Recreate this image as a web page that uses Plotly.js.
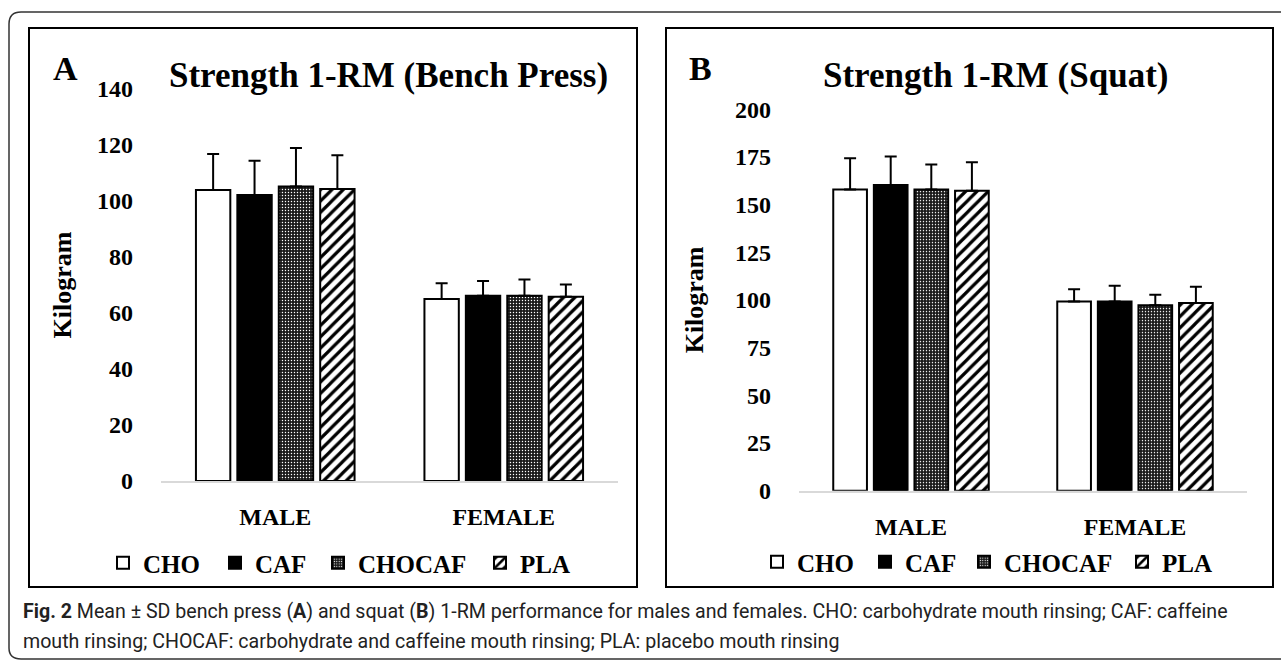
<!DOCTYPE html>
<html><head><meta charset="utf-8">
<script src="https://cdn.plot.ly/plotly-3.0.1.min.js"></script>
<style>html,body{margin:0;padding:0;background:#fff}#chart{width:1281px;height:660px}</style>
</head><body><div id="chart"></div>
<script>
// ---- data ----
const groups = ['MALE', 'FEMALE'];
const conditions = ['CHO', 'CAF', 'CHOCAF', 'PLA'];

// Bench press 1-RM (kg): mean and SD for [MALE, FEMALE]
const benchCHO = [103.9, 65.0];
const benchCAF = [102.1, 66.2];
const benchCHOCAF = [105.2, 66.2];
const benchPLA = [104.3, 65.8];
const benchCHO_SD = [12.9, 5.6];
const benchCAF_SD = [12.3, 5.2];
const benchCHOCAF_SD = [13.7, 5.8];
const benchPLA_SD = [12.0, 4.4];

// Squat 1-RM (kg): mean and SD for [MALE, FEMALE]
const squatCHO = [157.8, 99.1];
const squatCAF = [160.2, 99.1];
const squatCHOCAF = [157.8, 97.2];
const squatPLA = [157.2, 98.4];
const squatCHO_SD = [16.4, 6.5];
const squatCAF_SD = [15.0, 8.3];
const squatCHOCAF_SD = [13.2, 5.5];
const squatPLA_SD = [15.0, 8.5];

// ---- styling ----
const W = 1281, H = 660;
const px = x => x / W;
const py = y => 1 - y / H;
const SERIF = 'Liberation Serif, Times New Roman, serif';
const CAPTION_FONT = 'Roboto, Liberation Sans, sans-serif';

const fills = {
  CHO: {color: '#ffffff'},
  CAF: {color: '#000000'},
  CHOCAF: {color: '#1a1a1a', pattern: {shape: '.', fgcolor: '#ffffff', bgcolor: '#1a1a1a', size: 3, solidity: 0.18}},
  PLA: {color: '#ffffff', pattern: {shape: '/', fgcolor: '#000000', bgcolor: '#ffffff', size: 8, solidity: 0.4}}
};

function bar(name, y, sd, xa, ya, leg) {
  const m = Object.assign({line: {color: '#000', width: 2}}, fills[name]);
  return {
    type: 'bar', name: name, x: groups, y: y, xaxis: xa, yaxis: ya, legend: leg,
    marker: m,
    error_y: {type: 'data', array: sd, arrayminus: sd.map(() => 0), symmetric: false,
              color: '#000', thickness: 2, width: 6},
    hoverinfo: 'y+name'
  };
}

const data = [
  bar('CHO', benchCHO, benchCHO_SD, 'x', 'y', 'legend'),
  bar('CAF', benchCAF, benchCAF_SD, 'x', 'y', 'legend2'),
  bar('CHOCAF', benchCHOCAF, benchCHOCAF_SD, 'x', 'y', 'legend3'),
  bar('PLA', benchPLA, benchPLA_SD, 'x', 'y', 'legend4'),
  bar('CHO', squatCHO, squatCHO_SD, 'x2', 'y2', 'legend5'),
  bar('CAF', squatCAF, squatCAF_SD, 'x2', 'y2', 'legend6'),
  bar('CHOCAF', squatCHOCAF, squatCHOCAF_SD, 'x2', 'y2', 'legend7'),
  bar('PLA', squatPLA, squatPLA_SD, 'x2', 'y2', 'legend8')
];

const tickFont = {family: SERIF, size: 24, color: '#000', weight: 'bold'};
const xAxisBase = {
  showline: true, linecolor: '#d9d9d9', linewidth: 2, ticks: '', showgrid: false,
  zeroline: false, tickfont: tickFont, ticklabelstandoff: 13, fixedrange: true
};
const yTitleFont = {family: SERIF, size: 26, color: '#000', weight: 'bold'};
const yAxisBase = {
  showline: false, showgrid: false, zeroline: false, ticks: '',
  tickfont: tickFont, ticklabelstandoff: 27, fixedrange: true
};
const legendBase = {
  orientation: 'h', xanchor: 'left', yanchor: 'middle', bgcolor: 'rgba(0,0,0,0)',
  font: {family: SERIF, size: 25, color: '#000', weight: 'bold'}, itemclick: false, itemdoubleclick: false
};
// legend text starting points (px) in the picture
const legA = [143, 255, 358, 520], legB = [797, 905, 1004, 1162];
const legendLayouts = {};
legA.concat(legB).forEach((t, i) => {
  const key = i === 0 ? 'legend' : 'legend' + (i + 1);
  legendLayouts[key] = Object.assign({}, legendBase, {x: px(t - 40), y: py(i < 4 ? 563 : 562)});
});

const layout = Object.assign({
  width: W, height: H,
  margin: {l: 0, r: 0, t: 0, b: 0},
  paper_bgcolor: '#fff', plot_bgcolor: '#fff',
  barmode: 'group', bargap: 0.275, bargroupgap: 0.17,
  showlegend: true,
  xaxis: Object.assign({}, xAxisBase, {domain: [px(161), px(618)], anchor: 'y'}),
  yaxis: Object.assign({}, yAxisBase, {domain: [py(481), py(89)], range: [0, 140], dtick: 20, anchor: 'x',
    title: {text: 'Kilogram', font: yTitleFont, standoff: 17}}),
  xaxis2: Object.assign({}, xAxisBase, {domain: [px(799), px(1247)], anchor: 'y2'}),
  yaxis2: Object.assign({}, yAxisBase, {domain: [py(490.7), py(109.1)], range: [0, 200], dtick: 25, anchor: 'x2',
    title: {text: 'Kilogram', font: yTitleFont, standoff: 23}}),
  shapes: [
    {type: 'path', xref: 'paper', yref: 'paper',
     path: `M ${px(1281)},${py(12)} H ${px(21)} Q ${px(9)},${py(12)} ${px(9)},${py(24)} V ${py(648)} Q ${px(9)},${py(659)} ${px(21)},${py(659)} H ${px(1281)}`,
     line: {color: '#333', width: 1.5}},
    {type: 'rect', xref: 'paper', yref: 'paper', x0: px(29), x1: px(637), y0: py(587), y1: py(28),
     line: {color: '#000', width: 2}},
    {type: 'rect', xref: 'paper', yref: 'paper', x0: px(666), x1: px(1273), y0: py(587), y1: py(28),
     line: {color: '#000', width: 2}}
  ],
  annotations: [
    {xref: 'paper', yref: 'paper', x: px(65), y: py(69), text: 'A', showarrow: false,
     font: {family: SERIF, size: 34, color: '#000', weight: 'bold'}, xanchor: 'center', yanchor: 'middle'},
    {xref: 'paper', yref: 'paper', x: px(700), y: py(69), text: 'B', showarrow: false,
     font: {family: SERIF, size: 34, color: '#000', weight: 'bold'}, xanchor: 'center', yanchor: 'middle'},
    {xref: 'paper', yref: 'paper', x: px(388), y: py(75), text: 'Strength 1-RM (Bench Press)', showarrow: false,
     font: {family: SERIF, size: 35, color: '#000', weight: 'bold'}, xanchor: 'center', yanchor: 'middle'},
    {xref: 'paper', yref: 'paper', x: px(995), y: py(75), text: 'Strength 1-RM (Squat)', showarrow: false,
     font: {family: SERIF, size: 35, color: '#000', weight: 'bold'}, xanchor: 'center', yanchor: 'middle'},
    {xref: 'paper', yref: 'paper', x: px(21), y: py(611), xanchor: 'left', yanchor: 'middle', showarrow: false, align: 'left',
     text: '<b>Fig. 2</b> Mean ± SD bench press (<b>A</b>) and squat (<b>B</b>) 1-RM performance for males and females. CHO: carbohydrate mouth rinsing; CAF: caffeine',
     font: {family: CAPTION_FONT, size: 19.6, color: '#222'}},
    {xref: 'paper', yref: 'paper', x: px(21), y: py(641), xanchor: 'left', yanchor: 'middle', showarrow: false, align: 'left',
     text: 'mouth rinsing; CHOCAF: carbohydrate and caffeine mouth rinsing; PLA: placebo mouth rinsing',
     font: {family: CAPTION_FONT, size: 19.6, color: '#222'}}
  ]
}, legendLayouts);

Plotly.newPlot('chart', data, layout, {displayModeBar: false});
</script>
</body></html>
